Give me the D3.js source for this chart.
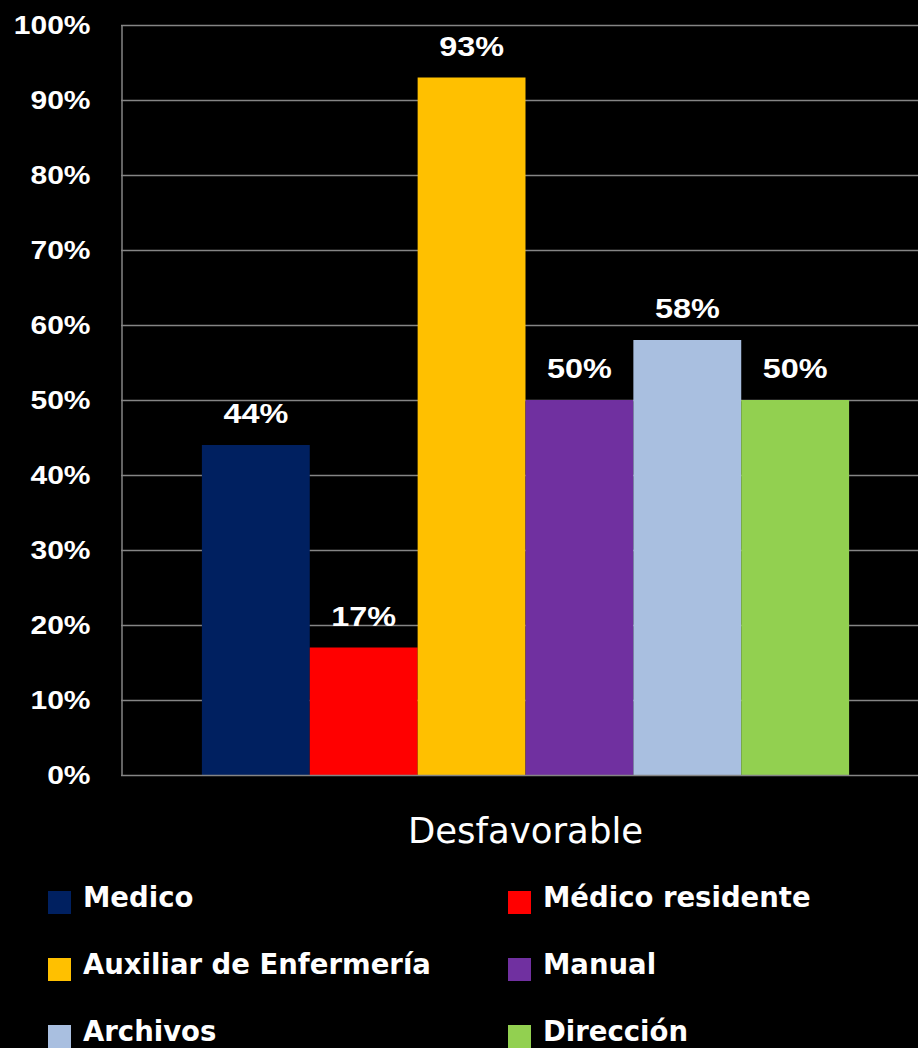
<!DOCTYPE html>
<html>
<head>
<meta charset="utf-8">
<script src="https://cdnjs.cloudflare.com/ajax/libs/d3/7.8.5/d3.min.js"></script>
<style>
  html, body { margin: 0; padding: 0; background: #000; }
  svg { display: block; }
</style>
</head>
<body>
<script>
// data
var categories = ["Desfavorable"];
var seriesNames = ["Medico", "Médico residente", "Auxiliar de Enfermería", "Manual", "Archivos", "Dirección"];
var seriesValues = [44, 17, 93, 50, 58, 50];
var seriesColors = ["#002060", "#FF0000", "#FFC000", "#7030A0", "#A9BFE0", "#92D050"];
var yTicks = [0, 10, 20, 30, 40, 50, 60, 70, 80, 90, 100];

var W = 918, H = 1048;
var margin = {top: 25, left: 121, plotRight: 930, bottom: 775};
var gridColor = "#858585";
var stretch = 1.2; // the original text is a bit wide

var svg = d3.select("body").append("svg")
    .attr("width", W)
    .attr("height", H)
    .style("background", "#000");

var y = d3.scaleLinear().domain([0, 100]).range([margin.bottom, margin.top]);
var x0 = d3.scaleBand().domain(categories).range([margin.left, margin.plotRight]).paddingInner(0).paddingOuter(0.125);
var x1 = d3.scaleBand().domain(seriesNames).range([0, x0.bandwidth()]).padding(0);

// gridlines
svg.append("g").selectAll("line")
    .data(yTicks.filter(function (d) { return d > 0; }))
    .enter().append("line")
    .attr("x1", margin.left).attr("x2", W)
    .attr("y1", function (d) { return Math.round(y(d)) + 0.5; })
    .attr("y2", function (d) { return Math.round(y(d)) + 0.5; })
    .attr("stroke", gridColor).attr("stroke-width", 1.5);

// bars
var group = svg.append("g").selectAll("g")
    .data(categories).enter().append("g")
    .attr("transform", function (d) { return "translate(" + x0(d) + ",0)"; });

group.selectAll("rect")
    .data(seriesNames.map(function (n, i) { return {name: n, value: seriesValues[i], color: seriesColors[i]}; }))
    .enter().append("rect")
    .attr("x", function (d) { return x1(d.name); })
    .attr("y", function (d) { return y(d.value); })
    .attr("width", x1.bandwidth())
    .attr("height", function (d) { return y(0) - y(d.value); })
    .attr("fill", function (d) { return d.color; });

// value labels
group.selectAll("g.lbl")
    .data(seriesNames.map(function (n, i) { return {name: n, value: seriesValues[i]}; }))
    .enter().append("g")
    .attr("class", "lbl")
    .attr("transform", function (d) {
        return "translate(" + (x1(d.name) + x1.bandwidth() / 2) + "," + (y(d.value) - 22) + ") scale(" + stretch + ",1)";
    })
    .append("text")
    .attr("text-anchor", "middle")
    .attr("font-family", "Liberation Sans, Arial, sans-serif")
    .attr("font-weight", "bold")
    .attr("font-size", "27px")
    .attr("fill", "#fff")
    .text(function (d) { return d.value + "%"; });

// axes lines
var yAxis = d3.axisLeft(y).tickValues(yTicks).tickSize(0).tickFormat(function (d) { return d + "%"; });
var ag = svg.append("g").attr("transform", "translate(" + (margin.left + 0.5) + ",0)").call(yAxis);
ag.select(".domain").attr("stroke", gridColor).attr("stroke-width", 1.5);
ag.selectAll(".tick text")
    .attr("x", 0)
    .attr("fill", "#fff")
    .attr("font-family", "Liberation Sans, Arial, sans-serif")
    .attr("font-weight", "bold")
    .attr("font-size", "25px")
    .attr("transform", "translate(-31,0) scale(" + stretch + ",1)");

var xAxis = d3.axisBottom(x0).tickSize(0).tickPadding(0);
var xg = svg.append("g").attr("transform", "translate(0," + (margin.bottom + 0.5) + ")").call(xAxis);
xg.select(".domain").attr("d", "M" + margin.left + ",0H" + W).attr("stroke", gridColor).attr("stroke-width", 1.5);
xg.selectAll(".tick text")
    .attr("y", 67)
    .attr("dy", 0)
    .attr("fill", "#fff")
    .attr("font-family", "DejaVu Sans, sans-serif")
    .attr("font-size", "35.5px");

// legend
var legend = svg.append("g").selectAll("g")
    .data(seriesNames).enter().append("g")
    .attr("transform", function (d, i) {
        var col = i % 2, row = Math.floor(i / 2);
        return "translate(" + (col === 0 ? 48 : 508) + "," + (891 + row * 67) + ")";
    });
legend.append("rect")
    .attr("width", 23).attr("height", 23)
    .attr("fill", function (d, i) { return seriesColors[i]; });
legend.append("text")
    .attr("x", 35).attr("y", 16)
    .attr("fill", "#fff")
    .attr("font-family", "DejaVu Sans, sans-serif")
    .attr("font-weight", "bold")
    .attr("font-size", "27.5px")
    .text(function (d) { return d; });
</script>
</body>
</html>
